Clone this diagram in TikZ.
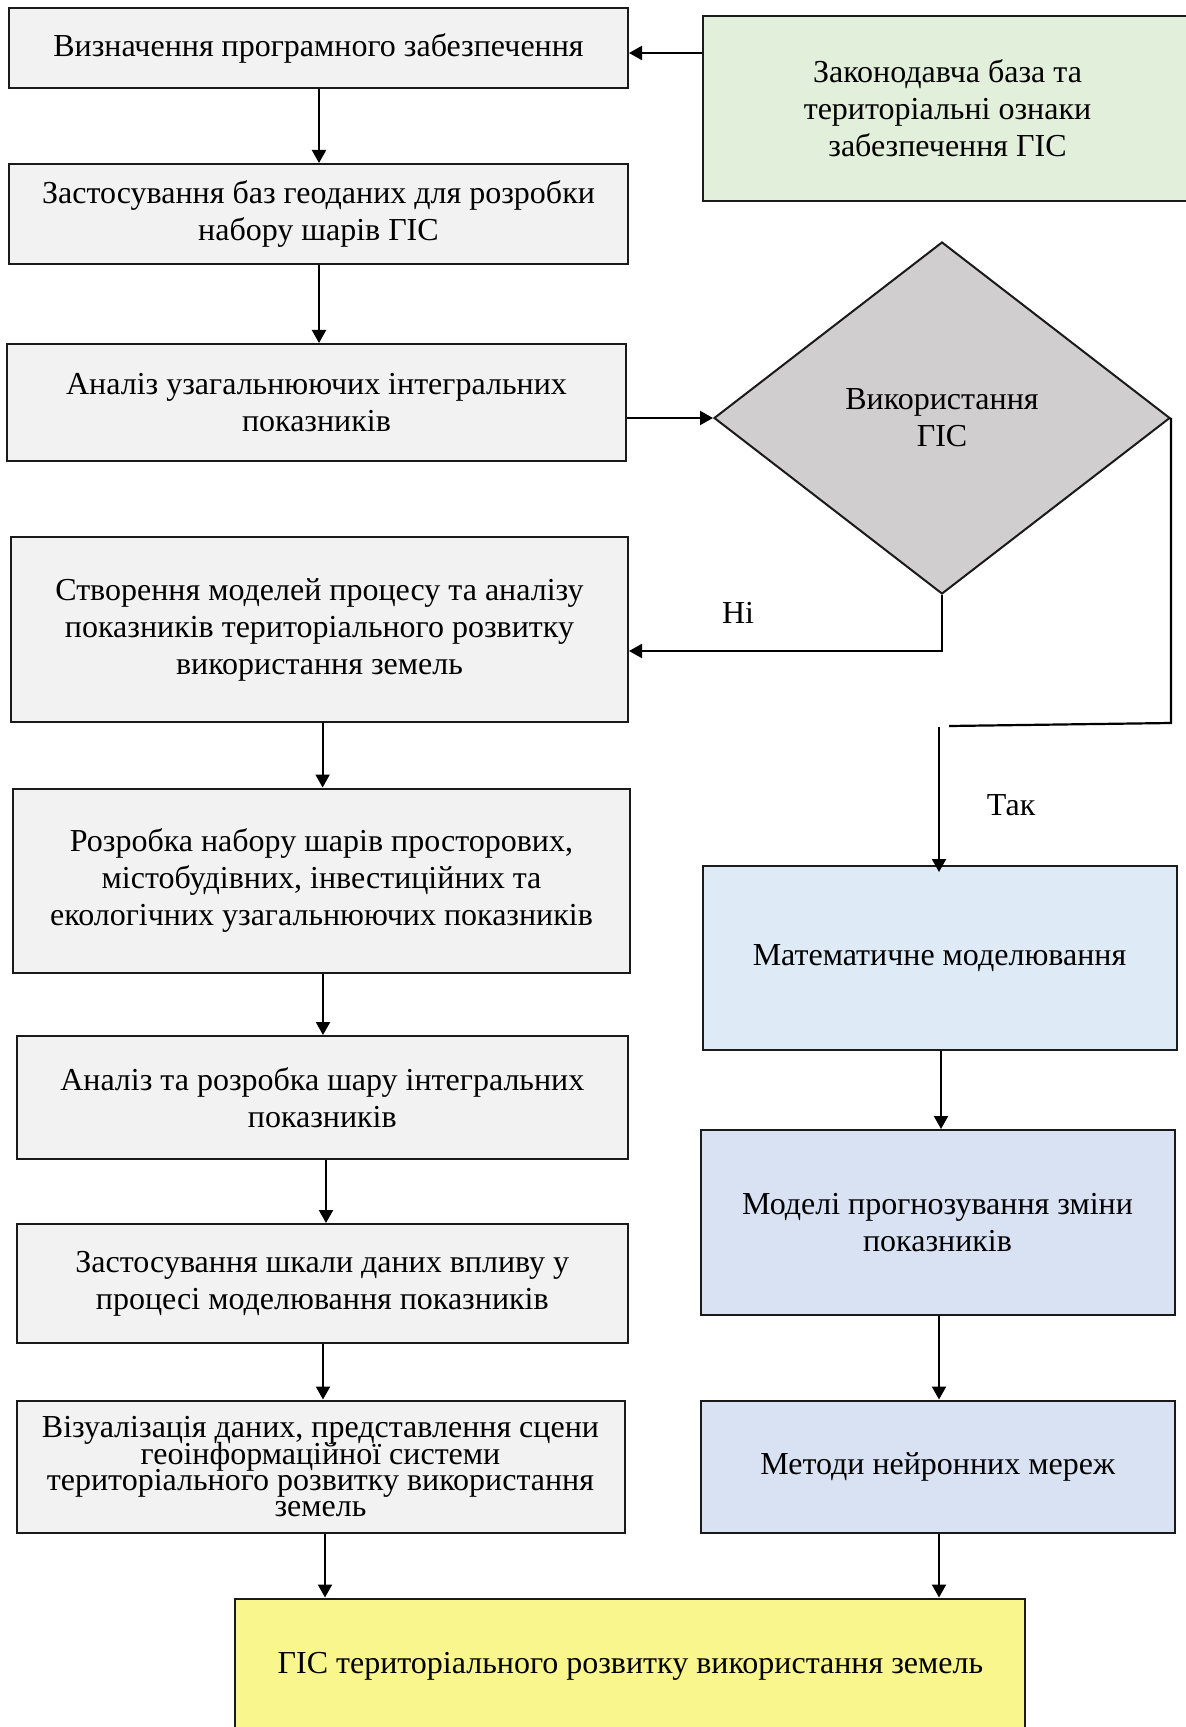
\documentclass[tikz,border=0pt]{standalone}
\usepackage{fontspec}
\setmainfont{Liberation Serif}
\usetikzlibrary{shapes.geometric,arrows.meta}
\definecolor{boxgray}{HTML}{F2F2F2}
\definecolor{boxgreen}{HTML}{E2EFDA}
\definecolor{boxblueA}{HTML}{DEEAF6}
\definecolor{boxblueB}{HTML}{D9E2F3}
\definecolor{dmdgray}{HTML}{D0CECE}
\definecolor{boxyellow}{HTML}{F8F68C}
\definecolor{edge}{HTML}{1A1A1A}
\newcommand\mytightlines{\fontsize{16}{13.2}\selectfont\lineskiplimit=-100pt\relax\lineskip=0pt\relax}
\tikzset{
  box/.style={draw=edge, line width=1pt, fill=boxgray, align=center, inner sep=0pt,
    font=\fontsize{16}{18.5}\selectfont},
  tightbox/.style={box, font=\mytightlines},
  arr/.style={line width=1.1pt, -{Triangle[length=6.5pt,width=7pt]}},
  conn/.style={line width=1.1pt},
  lbl/.style={font=\fontsize{16}{18.5}\selectfont, inner sep=0pt}
}
\begin{document}
\begin{tikzpicture}[x=0.5pt,y=-0.5pt]
\useasboundingbox (0,0) rectangle (1186,1727);
\fill[white] (0,0) rectangle (1186,1727);

% left column
\node[box, minimum width=309.5pt, minimum height=40pt] (b1) at (318.5,48)
  {Визначення програмного забезпечення};
\node[box, minimum width=309.5pt, minimum height=50pt] (b2) at (318.5,214)
  {Застосування баз геоданих для розробки\\набору шарів ГІС};
\node[box, minimum width=309.5pt, minimum height=58.5pt] (b3) at (316.5,402.5)
  {Аналіз узагальнюючих інтегральних\\показників};
\node[box, minimum width=308.5pt, minimum height=92.5pt] (b4) at (319.5,629.5)
  {Створення моделей процесу та аналізу\\показників територіального розвитку\\використання земель};
\node[box, minimum width=308.5pt, minimum height=92pt] (b5) at (321.5,880.5)
  {Розробка набору шарів просторових,\\містобудівних, інвестиційних та\\екологічних узагальнюючих показників};
\node[box, minimum width=305.8pt, minimum height=61.5pt] (b6) at (322.3,1097.5)
  {Аналіз та розробка шару інтегральних\\показників};
\node[box, minimum width=305.8pt, minimum height=59.5pt] (b7) at (322.3,1283.5)
  {Застосування шкали даних впливу у\\процесі моделювання показників};
\node[tightbox, minimum width=304pt, minimum height=66.3pt] (b8) at (320.5,1466.8)
  {Візуалізація даних, представлення сцени\\геоінформаційної системи\\територіального розвитку використання\\земель};

% right column
\node[box, fill=boxgreen, minimum width=244.5pt, minimum height=92.5pt] (gr) at (947.5,108.5)
  {Законодавча база та\\територіальні ознаки\\забезпечення ГІС};
\node[box, diamond, fill=dmdgray, minimum width=228pt, minimum height=176pt] (dm) at (942,418)
  {Використання\\ГІС};
\node[box, fill=boxblueA, minimum width=237pt, minimum height=92.2pt] (mm) at (939.5,957.8)
  {Математичне моделювання};
\node[box, fill=boxblueB, minimum width=237pt, minimum height=92.5pt] (mp) at (937.5,1222.5)
  {Моделі прогнозування зміни\\показників};
\node[box, fill=boxblueB, minimum width=237pt, minimum height=66.3pt] (mn) at (937.7,1466.8)
  {Методи нейронних мереж};
\node[box, fill=boxyellow, minimum width=395pt, minimum height=67.5pt] (gis) at (630.4,1666)
  {ГІС територіального розвитку використання земель};

% labels
\node[lbl] (ni) at (738,613) {Ні};
\node[lbl] (tak) at (1011,805) {Так};

% connectors
\draw[arr] (gr.west |- 0,53) -- (b1.east |- 0,53);
\draw[arr] (b1.south -| 319,0) -- (b2.north -| 319,0);
\draw[arr] (b2.south -| 319,0) -- (b3.north -| 319,0);
\draw[arr] (b3.east |- 0,418) -- (dm.west);
\draw[arr] (dm.south) -- (942,651) -- (b4.east |- 0,651);
\coordinate (tk1) at (949,726);
\coordinate (tk2) at (939,727);
\coordinate (tk3) at (939,872);
\draw[conn] (dm.east) -- (1171,723) -- (tk1);
\draw[arr] (tk2) -- (tk3);
\draw[arr] (mm.south -| 941,0) -- (mp.north -| 941,0);
\draw[arr] (mp.south -| 939,0) -- (mn.north -| 939,0);
\draw[arr] (mn.south -| 939,0) -- (gis.north -| 939,0);
\draw[arr] (b4.south -| 322.6,0) -- (b5.north -| 322.6,0);
\draw[arr] (b5.south -| 323,0) -- (b6.north -| 323,0);
\draw[arr] (b6.south -| 326,0) -- (b7.north -| 326,0);
\draw[arr] (b7.south -| 323,0) -- (b8.north -| 323,0);
\draw[arr] (b8.south -| 325,0) -- (gis.north -| 325,0);
\end{tikzpicture}
\end{document}
